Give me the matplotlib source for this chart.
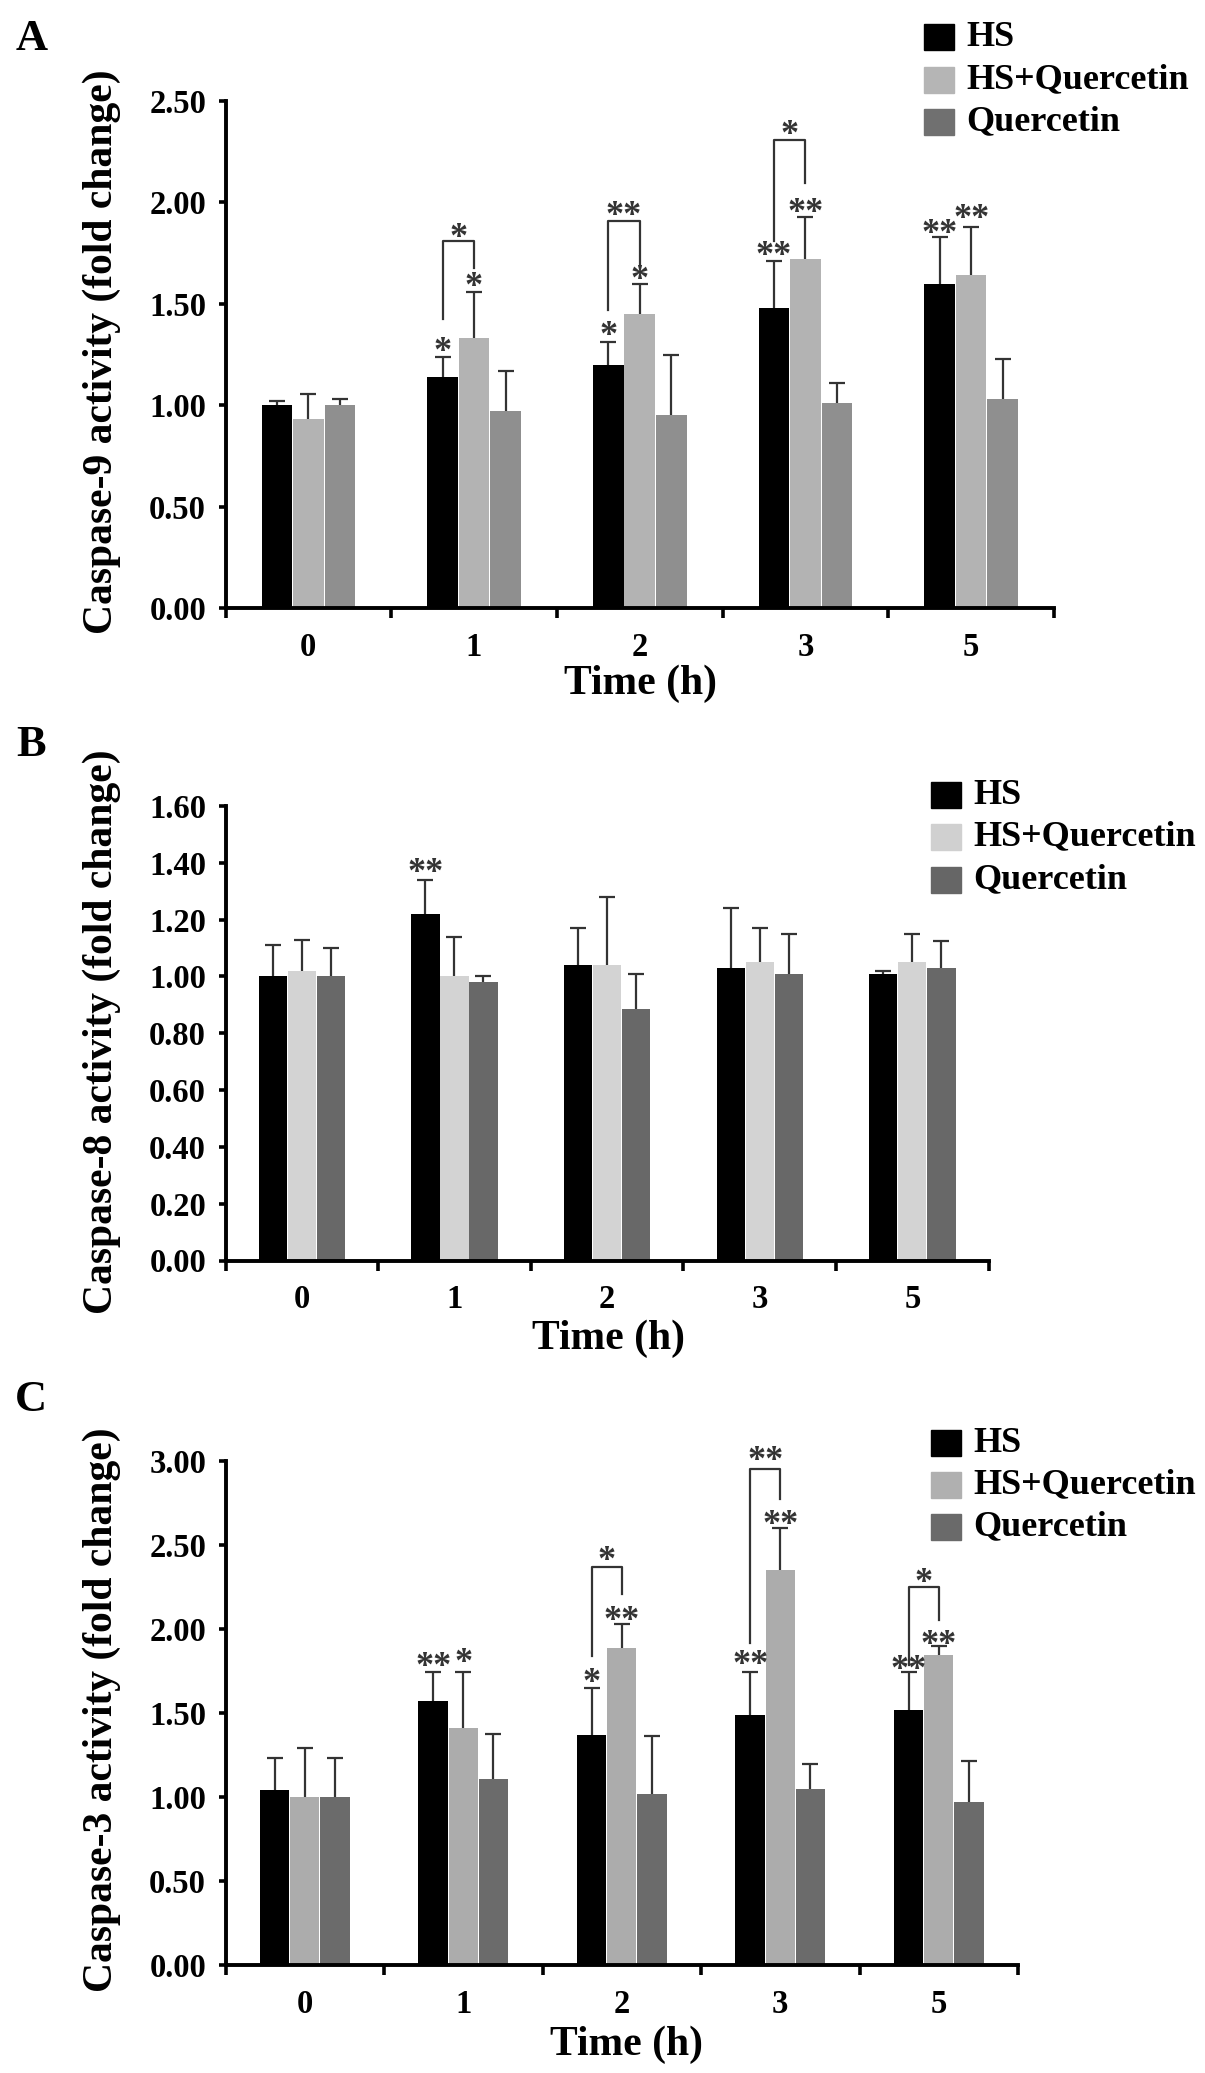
import matplotlib
matplotlib.use('Agg')
import matplotlib.pyplot as plt
import numpy as np
from matplotlib.patches import Rectangle
from matplotlib.ticker import FormatStrFormatter, FixedLocator

plt.rcParams['font.family'] = ['Liberation Serif', 'DejaVu Serif']
plt.rcParams['font.weight'] = 'bold'

# ---- data ----
times = ['0', '1', '2', '3', '5']
groups = ['HS', 'HS+Quercetin', 'Quercetin']

# panel A: caspase-9
a_hs = [1.00, 1.14, 1.20, 1.48, 1.60]
a_hs_sd = [0.02, 0.10, 0.11, 0.23, 0.23]
a_hsq = [0.93, 1.33, 1.45, 1.72, 1.64]
a_hsq_sd = [0.125, 0.23, 0.15, 0.21, 0.24]
a_q = [1.00, 0.97, 0.95, 1.01, 1.03]
a_q_sd = [0.03, 0.20, 0.30, 0.10, 0.20]

# panel B: caspase-8
b_hs = [1.00, 1.22, 1.04, 1.03, 1.01]
b_hs_sd = [0.11, 0.12, 0.13, 0.21, 0.01]
b_hsq = [1.02, 1.00, 1.04, 1.05, 1.05]
b_hsq_sd = [0.11, 0.14, 0.24, 0.12, 0.10]
b_q = [1.00, 0.98, 0.885, 1.01, 1.03]
b_q_sd = [0.10, 0.02, 0.125, 0.14, 0.095]

# panel C: caspase-3
c_hs = [1.04, 1.57, 1.37, 1.49, 1.52]
c_hs_sd = [0.19, 0.175, 0.28, 0.255, 0.225]
c_hsq = [1.00, 1.41, 1.885, 2.35, 1.845]
c_hsq_sd = [0.29, 0.335, 0.145, 0.25, 0.055]
c_q = [1.00, 1.105, 1.02, 1.045, 0.97]
c_q_sd = [0.23, 0.27, 0.345, 0.15, 0.245]

# significance marks: (time index, bar index, label, y of mark)
a_stars = [(1, 0, '*', 1.305), (1, 1, '*', 1.626), (2, 0, '*', 1.387), (2, 1, '*', 1.664),
           (3, 0, '**', 1.781), (3, 1, '**', 1.991), (4, 0, '**', 1.89), (4, 1, '**', 1.963)]
b_stars = [(1, 0, '**', 1.397)]
c_stars = [(1, 0, '**', 1.827), (1, 1, '*', 1.853), (2, 0, '*', 1.735), (2, 1, '**', 2.104),
           (3, 0, '**', 1.84), (3, 1, '**', 2.671), (4, 0, '**', 1.809), (4, 1, '**', 1.959)]
# brackets HS vs HS+Quercetin: (time index, left foot, top, right foot, label, label y)
a_brackets = [(1, 1.423, 1.808, 1.675, '*', 1.87), (2, 1.471, 1.907, 1.688, '**', 1.98),
              (3, 1.81, 2.306, 2.095, '*', 2.379)]
b_brackets = []
c_brackets = [(2, 1.84, 2.367, 2.209, '*', 2.46), (3, 1.919, 2.955, 2.776, '**', 3.053),
              (4, 1.788, 2.249, 2.051, '*', 2.328)]

# ---- layout ----
W, H = 1205, 2073
fig = plt.figure(figsize=(W / 100, H / 100), dpi=100)


def fx(px):
    return px / W


def fy(py):
    return 1 - py / H


BAR_W = 0.185
OFFS = [-0.19, 0.0, 0.19]
STAR_FS = 26
MARK_COL = '#333333'


def panel(box, letter, letter_xy, ymax, ystep, vals, sds, colors, leg_colors,
          stars, brackets, ylabel, ylab_y, xlab_xy, leg_x, leg_rows):
    left, top, right, bottom = box
    ax = fig.add_axes([fx(left), fy(bottom), fx(right) - fx(left), fy(top) - fy(bottom)])
    centers = np.arange(len(times)) + 0.5
    for k in range(3):
        xs = centers + OFFS[k]
        ax.bar(xs, vals[k], BAR_W, color=colors[k], zorder=2)
        eb = ax.errorbar(xs, vals[k], yerr=[np.zeros(len(times)), sds[k]], fmt='none',
                         ecolor=MARK_COL, elinewidth=1.6, capsize=5.5, capthick=1.6, zorder=3)
        # only the upper half is drawn in the original, hide the lower caps
        eb[1][0].set_visible(False)
    for i, k, lab, y in stars:
        ax.annotate(lab, xy=(centers[i] + OFFS[k], y), xytext=(0, -STAR_FS * 0.5),
                    textcoords='offset points', ha='center', va='baseline',
                    fontsize=STAR_FS, color=MARK_COL, annotation_clip=False)
    for i, yl, yt, yr, lab, ylab in brackets:
        xl, xr = centers[i] + OFFS[0], centers[i] + OFFS[1]
        ax.plot([xl, xl, xr, xr], [yl, yt, yt, yr], color=MARK_COL, lw=1.6, clip_on=False)
        ax.annotate(lab, xy=((xl + xr) / 2, ylab), xytext=(0, -STAR_FS * 0.5),
                    textcoords='offset points', ha='center', va='baseline',
                    fontsize=STAR_FS, color=MARK_COL, annotation_clip=False)

    ax.set_xlim(0, len(times))
    ax.set_ylim(0, ymax)
    ax.set_yticks(np.arange(0, ymax + ystep / 2, ystep))
    ax.yaxis.set_major_formatter(FormatStrFormatter('%.2f'))
    ax.xaxis.set_major_locator(FixedLocator(np.arange(len(times) + 1)))
    ax.xaxis.set_minor_locator(FixedLocator(centers))
    ax.set_xticklabels([], minor=False)
    ax.set_xticklabels(times, minor=True)
    ax.tick_params(axis='x', which='major', direction='out', length=7, width=2.6)
    ax.tick_params(axis='x', which='minor', length=0, pad=17, labelsize=23.5)
    ax.tick_params(axis='y', direction='out', length=5, width=2.6, pad=9, labelsize=23.5)
    for s in ['top', 'right']:
        ax.spines[s].set_visible(False)
    for s in ['left', 'bottom']:
        ax.spines[s].set_linewidth(2.8)

    fig.text(fx(letter_xy[0]), fy(letter_xy[1]), letter, fontsize=32, ha='center', va='center')
    fig.text(fx(102), fy(ylab_y), ylabel, rotation=90, fontsize=30, ha='center', va='center')
    fig.text(fx(xlab_xy[0]), fy(xlab_xy[1]), 'Time (h)', fontsize=30, ha='center', va='center')
    for k, yc in enumerate(leg_rows):
        fig.add_artist(Rectangle((fx(leg_x), fy(yc + 13)), 30 / W, 26 / H,
                                 transform=fig.transFigure, color=leg_colors[k]))
        fig.text(fx(leg_x + 42), fy(yc), groups[k], fontsize=26, ha='left', va='center')
    return ax


panel((225.5, 101, 1054, 608), 'A', (32, 39), 2.5, 0.5,
      [a_hs, a_hsq, a_q], [a_hs_sd, a_hsq_sd, a_q_sd],
      ['#000000', '#b3b3b3', '#8f8f8f'], ['#000000', '#b5b5b5', '#707070'],
      a_stars, a_brackets, 'Caspase-9 activity (fold change)', 352, (640, 684),
      924, [37, 80, 122])

panel((225.5, 806, 988.7, 1260.5), 'B', (31, 745), 1.6, 0.2,
      [b_hs, b_hsq, b_q], [b_hs_sd, b_hsq_sd, b_q_sd],
      ['#000000', '#d3d3d3', '#686868'], ['#000000', '#d0d0d0', '#666666'],
      b_stars, b_brackets, 'Caspase-8 activity (fold change)', 1032, (608, 1339),
      931, [795, 837, 880])

panel((225.5, 1461, 1018, 1965), 'C', (31, 1400), 3.0, 0.5,
      [c_hs, c_hsq, c_q], [c_hs_sd, c_hsq_sd, c_q_sd],
      ['#000000', '#acacac', '#6b6b6b'], ['#000000', '#b0b0b0', '#6a6a6a'],
      c_stars, c_brackets, 'Caspase-3 activity (fold change)', 1710, (626, 2045),
      931, [1443, 1485, 1527])

fig.savefig('out.png', dpi=100)
